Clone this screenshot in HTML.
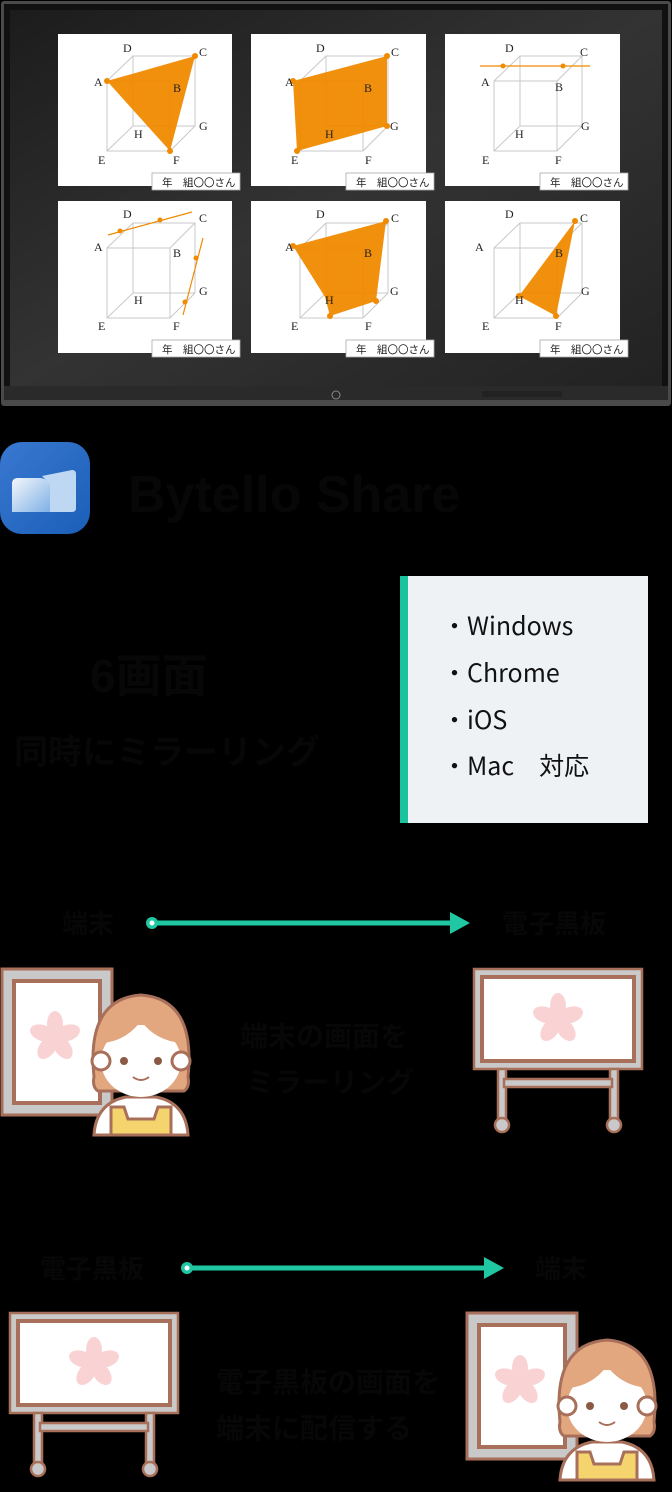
<!DOCTYPE html>
<html><head><meta charset="utf-8">
<style>
html,body{margin:0;padding:0;background:#000;}
body{width:672px;height:1492px;position:relative;overflow:hidden;font-family:"Liberation Sans","Noto Sans CJK JP",sans-serif;}
.abs{position:absolute;}
</style></head><body>
<svg class="abs" style="left:0;top:0" width="672" height="1492" viewBox="0 0 672 1492" xmlns="http://www.w3.org/2000/svg" font-family="Liberation Serif, serif">
<defs>
<linearGradient id="scr" x1="0" y1="0" x2="1" y2="1"><stop offset="0" stop-color="#1c1c1c"/><stop offset="0.5" stop-color="#333"/><stop offset="1" stop-color="#222"/></linearGradient>
<linearGradient id="logo" x1="0" y1="0" x2="1" y2="1"><stop offset="0" stop-color="#3a78d0"/><stop offset="1" stop-color="#1a5fb8"/></linearGradient>
<linearGradient id="logo2" x1="0" y1="0" x2="1" y2="1"><stop offset="0" stop-color="#f4f7fb"/><stop offset="1" stop-color="#7fb0e6"/></linearGradient>
<g id="cube" fill="none" stroke="#c8c8c8" stroke-width="1">
 <rect x="49" y="47" width="63" height="70"/>
 <rect x="75" y="22" width="62" height="70"/>
 <path d="M49 47L75 22M112 47L137 22M112 117L137 92M49 117L75 92"/>
</g>
<g id="flower" fill="#f9d3d3">
 <ellipse cx="0" cy="-13" rx="8" ry="13"/>
 <ellipse cx="0" cy="-13" rx="8" ry="13" transform="rotate(72)"/>
 <ellipse cx="0" cy="-13" rx="8" ry="13" transform="rotate(144)"/>
 <ellipse cx="0" cy="-13" rx="8" ry="13" transform="rotate(216)"/>
 <ellipse cx="0" cy="-13" rx="8" ry="13" transform="rotate(288)"/>
</g>
<g id="board">
 <rect x="4" y="2" width="168" height="100" fill="#c9c9c9" stroke="#a8705a" stroke-width="2.5"/>
 <rect x="10" y="8" width="156" height="88" fill="#a8705a"/>
 <rect x="14" y="12" width="148" height="80" fill="#fff"/>
 <use href="#flower" x="88" y="52"/>
 <rect x="28" y="102" width="8" height="52" fill="#c9c9c9" stroke="#a8705a" stroke-width="2.5"/>
 <rect x="140" y="102" width="8" height="52" fill="#c9c9c9" stroke="#a8705a" stroke-width="2.5"/>
 <rect x="34" y="112" width="108" height="8" fill="#c9c9c9" stroke="#a8705a" stroke-width="2.5"/>
 <circle cx="32" cy="158" r="7" fill="#c9c9c9" stroke="#a8705a" stroke-width="2.5"/>
 <circle cx="144" cy="158" r="7" fill="#c9c9c9" stroke="#a8705a" stroke-width="2.5"/>
</g>
<g id="frame">
 <rect x="2" y="2" width="110" height="146" fill="#c9c9c9" stroke="#a8705a" stroke-width="3"/>
 <rect x="12" y="12" width="90" height="126" fill="#a8705a"/>
 <rect x="16" y="16" width="82" height="118" fill="#fff"/>
 <use href="#flower" x="55" y="70"/>
</g>
<g id="girl" stroke="#a8705a" stroke-width="3">
 <path d="M8 150 Q10 118 40 112 L70 112 Q100 118 102 150 Z" fill="#fff"/>
 <path d="M25 150 L25 122 L38 122 L42 134 L68 134 L72 122 L85 122 L85 150 Z" fill="#f5d46e"/>
 <path d="M8 92 Q0 14 55 10 Q110 14 102 92 Q104 102 98 106 L12 106 Q6 102 8 92Z" fill="#e3a77f"/>
 <ellipse cx="55" cy="76" rx="40" ry="36" fill="#fff" stroke="none"/>
 <path d="M16 58 Q40 56 55 36 Q70 56 96 58 L96 46 Q84 20 55 20 Q26 20 16 46Z" fill="#e3a77f" stroke="none"/>
 <circle cx="15" cy="76" r="9" fill="#fff"/>
 <circle cx="95" cy="76" r="9" fill="#fff"/>
 <circle cx="38" cy="76" r="4" fill="#8a5a44" stroke="none"/>
 <circle cx="72" cy="76" r="4" fill="#8a5a44" stroke="none"/>
 <path d="M47 92 Q55 98 63 92" fill="none" stroke-width="2"/>
</g>
</defs>

<rect x="1" y="1" width="670" height="405" rx="3" fill="#4a4a4a"/>
<rect x="4" y="4" width="664" height="395" fill="#111"/>
<rect x="10" y="10" width="652" height="376" fill="url(#scr)"/>
<rect x="4" y="386" width="664" height="14" fill="#2a2a2a"/>
<circle cx="336" cy="395" r="4" fill="none" stroke="#888" stroke-width="1"/>
<rect x="482" y="391" width="80" height="6" fill="#222"/>

<g font-size="12" fill="#222">
<g transform="translate(58,34)">
 <rect width="174" height="152" fill="#fff"/>
 <use href="#cube"/>
 <polygon points="49,47 137,22 112,117" fill="#f08a00" opacity="0.95"/>
 <g fill="#f08a00"><circle cx="49" cy="47" r="3"/><circle cx="137" cy="22" r="3"/><circle cx="112" cy="117" r="3"/></g>
 <text x="36" y="52">A</text><text x="65" y="18">D</text><text x="141" y="22">C</text><text x="115" y="58">B</text><text x="141" y="96">G</text><text x="76" y="104">H</text><text x="40" y="130">E</text><text x="115" y="130">F</text>
</g>
<g transform="translate(251,34)">
 <rect width="175" height="152" fill="#fff"/>
 <use href="#cube"/>
 <polygon points="42,47 136,22 136,92 46,117" fill="#f08a00" opacity="0.95"/>
 <g fill="#f08a00"><circle cx="42" cy="47" r="3"/><circle cx="136" cy="22" r="3"/><circle cx="136" cy="92" r="3"/><circle cx="46" cy="117" r="3"/></g>
 <text x="34" y="52">A</text><text x="65" y="18">D</text><text x="140" y="22">C</text><text x="113" y="58">B</text><text x="139" y="96">G</text><text x="74" y="104">H</text><text x="40" y="130">E</text><text x="114" y="130">F</text>
</g>
<g transform="translate(445,34)">
 <rect width="175" height="152" fill="#fff"/>
 <use href="#cube"/>
 <line x1="35" y1="32" x2="145" y2="32" stroke="#f08a00" stroke-width="1.2"/>
 <g fill="#f08a00"><circle cx="58" cy="32" r="2.5"/><circle cx="118" cy="32" r="2.5"/></g>
 <text x="36" y="52">A</text><text x="60" y="18">D</text><text x="135" y="22">C</text><text x="110" y="57">B</text><text x="136" y="96">G</text><text x="70" y="104">H</text><text x="37" y="130">E</text><text x="110" y="130">F</text>
</g>
<g transform="translate(58,201)">
 <rect width="174" height="152" fill="#fff"/>
 <use href="#cube"/>
 <line x1="50" y1="34" x2="134" y2="11" stroke="#f08a00" stroke-width="1.2"/>
 <line x1="145" y1="37" x2="125" y2="114" stroke="#f08a00" stroke-width="1.2"/>
 <g fill="#f08a00"><circle cx="62" cy="30" r="2.5"/><circle cx="102" cy="19" r="2.5"/><circle cx="138" cy="57" r="2.5"/><circle cx="127" cy="101" r="2.5"/></g>
 <text x="36" y="50">A</text><text x="65" y="17">D</text><text x="141" y="21">C</text><text x="115" y="56">B</text><text x="141" y="94">G</text><text x="76" y="103">H</text><text x="40" y="129">E</text><text x="115" y="129">F</text>
</g>
<g transform="translate(251,201)">
 <rect width="175" height="152" fill="#fff"/>
 <use href="#cube"/>
 <polygon points="42,45 135,20 125,100 79,115 74,96" fill="#f08a00" opacity="0.95"/>
 <g fill="#f08a00"><circle cx="42" cy="45" r="3"/><circle cx="135" cy="20" r="3"/><circle cx="125" cy="100" r="3"/><circle cx="79" cy="115" r="3"/><circle cx="78" cy="96" r="3"/></g>
 <text x="34" y="50">A</text><text x="65" y="17">D</text><text x="140" y="21">C</text><text x="113" y="56">B</text><text x="139" y="94">G</text><text x="74" y="103">H</text><text x="40" y="129">E</text><text x="114" y="129">F</text>
</g>
<g transform="translate(445,201)">
 <rect width="175" height="152" fill="#fff"/>
 <use href="#cube"/>
 <polygon points="130,20 74,95 111,115" fill="#f08a00" opacity="0.95"/>
 <g fill="#f08a00"><circle cx="130" cy="20" r="3"/><circle cx="74" cy="95" r="3"/><circle cx="111" cy="115" r="3"/></g>
 <text x="30" y="50">A</text><text x="60" y="17">D</text><text x="135" y="21">C</text><text x="110" y="56">B</text><text x="136" y="94">G</text><text x="70" y="103">H</text><text x="37" y="129">E</text><text x="110" y="129">F</text>
</g>
<g font-family="Liberation Sans, Noto Sans CJK JP, sans-serif" font-size="10.5" fill="#222">
 <rect x="152" y="173" width="88" height="17" fill="#fff" stroke="#aaa" stroke-width="0.8"/><text x="162" y="186">年　組〇〇さん</text>
 <rect x="346" y="173" width="88" height="17" fill="#fff" stroke="#aaa" stroke-width="0.8"/><text x="356" y="186">年　組〇〇さん</text>
 <rect x="540" y="173" width="88" height="17" fill="#fff" stroke="#aaa" stroke-width="0.8"/><text x="550" y="186">年　組〇〇さん</text>
 <rect x="152" y="340" width="88" height="17" fill="#fff" stroke="#aaa" stroke-width="0.8"/><text x="162" y="353">年　組〇〇さん</text>
 <rect x="346" y="340" width="88" height="17" fill="#fff" stroke="#aaa" stroke-width="0.8"/><text x="356" y="353">年　組〇〇さん</text>
 <rect x="540" y="340" width="88" height="17" fill="#fff" stroke="#aaa" stroke-width="0.8"/><text x="550" y="353">年　組〇〇さん</text>
</g>
</g>

<rect x="0" y="442" width="90" height="92" rx="22" fill="url(#logo)"/>
<path d="M12 484 Q12 478 18 478 L40 478 Q46 478 50 484 L50 512 L12 512 Z" fill="url(#logo2)"/>
<path d="M42 476 L72 470 Q76 470 76 474 L76 508 Q76 512 72 512 L50 512 L50 484 Z" fill="#cfe3f8" opacity="0.9"/>
<text x="128" y="512" font-family="Liberation Sans, sans-serif" font-weight="bold" font-size="52" fill="#070707">Bytello Share</text>

<text x="90" y="692" font-family="Liberation Sans, Noto Sans CJK JP, sans-serif" font-weight="bold" font-size="46" fill="#070707">6画面</text>
<text x="14" y="764" font-family="Liberation Sans, Noto Sans CJK JP, sans-serif" font-weight="bold" font-size="34" fill="#070707">同時にミラーリング</text>

<rect x="400" y="576" width="248" height="247" fill="#eff2f5"/>
<rect x="400" y="576" width="8" height="247" fill="#19c39e"/>
<g font-family="Noto Sans CJK JP, sans-serif" font-size="25" fill="#111">
 <text x="442" y="635">・Windows</text>
 <text x="442" y="682">・Chrome</text>
 <text x="442" y="729">・iOS</text>
 <text x="442" y="775">・Mac　対応</text>
</g>

<text x="62" y="933" font-family="Liberation Sans, Noto Sans CJK JP, sans-serif" font-weight="bold" font-size="26" fill="#070707">端末</text>
<text x="502" y="933" font-family="Liberation Sans, Noto Sans CJK JP, sans-serif" font-weight="bold" font-size="26" fill="#070707">電子黒板</text>
<line x1="152" y1="923" x2="458" y2="923" stroke="#1fc7a3" stroke-width="5"/>
<polygon points="450,912 470,923 450,934" fill="#1fc7a3"/>
<circle cx="152" cy="923" r="6" fill="#1fc7a3"/><circle cx="152" cy="923" r="2.5" fill="#fff"/>
<use href="#frame" x="0" y="967"/>
<use href="#girl" x="86" y="985"/>
<use href="#board" x="470" y="967"/>
<text x="240" y="1046" font-family="Liberation Sans, Noto Sans CJK JP, sans-serif" font-weight="bold" font-size="28" fill="#070707">端末の画面を</text>
<text x="246" y="1092" font-family="Liberation Sans, Noto Sans CJK JP, sans-serif" font-weight="bold" font-size="28" fill="#070707">ミラーリング</text>

<text x="40" y="1278" font-family="Liberation Sans, Noto Sans CJK JP, sans-serif" font-weight="bold" font-size="26" fill="#070707">電子黒板</text>
<text x="535" y="1278" font-family="Liberation Sans, Noto Sans CJK JP, sans-serif" font-weight="bold" font-size="26" fill="#070707">端末</text>
<line x1="187" y1="1268" x2="492" y2="1268" stroke="#1fc7a3" stroke-width="5"/>
<polygon points="484,1257 504,1268 484,1279" fill="#1fc7a3"/>
<circle cx="187" cy="1268" r="6" fill="#1fc7a3"/><circle cx="187" cy="1268" r="2.5" fill="#fff"/>
<use href="#board" x="6" y="1311"/>
<use href="#frame" x="465" y="1311"/>
<use href="#girl" x="552" y="1330"/>
<text x="216" y="1392" font-family="Liberation Sans, Noto Sans CJK JP, sans-serif" font-weight="bold" font-size="28" fill="#070707">電子黒板の画面を</text>
<text x="216" y="1438" font-family="Liberation Sans, Noto Sans CJK JP, sans-serif" font-weight="bold" font-size="28" fill="#070707">端末に配信する</text>
</svg>
</body></html>
